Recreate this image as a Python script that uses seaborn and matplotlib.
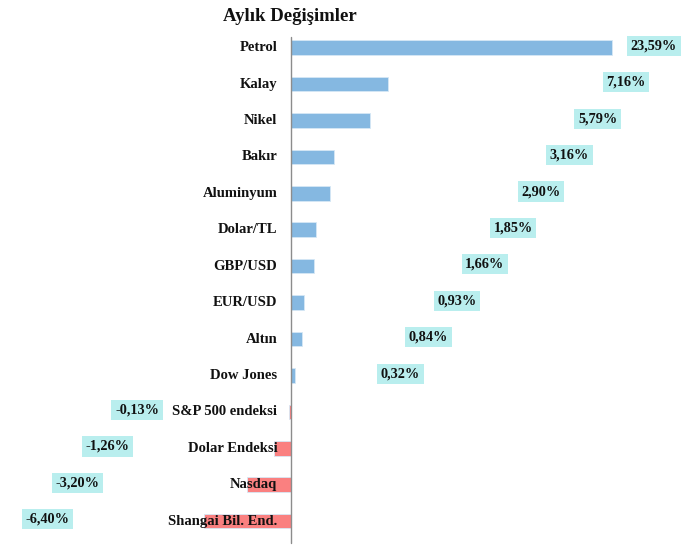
import matplotlib
matplotlib.use("Agg")
import matplotlib.pyplot as plt
import seaborn as sns
import pandas as pd

categories = ["Petrol", "Kalay", "Nikel", "Bakır", "Aluminyum", "Dolar/TL",
              "GBP/USD", "EUR/USD", "Altın", "Dow Jones", "S&P 500 endeksi",
              "Dolar Endeksi", "Nasdaq", "Shangai Bil. End."]
values = [23.59, 7.16, 5.79, 3.16, 2.90, 1.85, 1.66, 0.93, 0.84, 0.32,
          -0.13, -1.26, -3.20, -6.40]

df = pd.DataFrame({"kategori": categories, "deger": values})
df["renk"] = ["pos" if v >= 0 else "neg" for v in values]

sns.set_style("white")
plt.rcParams["font.family"] = ["Liberation Serif", "DejaVu Serif"]

fig = plt.figure(figsize=(6.96, 5.56), dpi=100)
ax = fig.add_axes([0, 0.030, 1, 0.917])

sns.barplot(data=df, x="deger", y="kategori", hue="renk",
            palette={"pos": "#85b8e1", "neg": "#fa8080"}, saturation=1,
            width=0.4, legend=False, ax=ax, orient="h",
            edgecolor="#d6e8f5", linewidth=0.6, zorder=1)

ax.set_xlim(-21.38, 29.76)
ax.set_ylim(13.5, -0.5)
for s in ax.spines.values():
    s.set_visible(False)
ax.set_xticks([])
ax.set_yticks([])
ax.set_xlabel("")
ax.set_ylabel("")
ax.plot([0, 0], [-0.3, 13.6], color="#8c8c8c", lw=1.0, zorder=3, clip_on=False)

# category names just left of zero line
for i, name in enumerate(categories):
    ax.text(-1.0, i, name, ha="right", va="center", fontsize=10.5,
            fontweight="bold", color="#111111", zorder=4)

# value labels, staggered like the original
pos_i = 0
neg_i = 0
for i, v in enumerate(values):
    if v >= 0:
        lx = 26.67 - 2.07 * pos_i
        pos_i += 1
    else:
        lx = -11.31 - 2.20 * neg_i
        neg_i += 1
    txt = f"{v:.2f}".replace(".", ",") + "%"
    ax.text(lx, i - 0.05, txt, ha="center", va="center", fontsize=10.3,
            fontweight="bold", color="#111111", zorder=5,
            bbox=dict(boxstyle="square,pad=0.25", facecolor="#b9eeee",
                      edgecolor="none"))

fig.text(0.417, 0.97, "Aylık Değişimler", ha="center", va="center",
         fontsize=13.5, fontweight="bold", color="#111111")

fig.savefig("out.png", dpi=100)
